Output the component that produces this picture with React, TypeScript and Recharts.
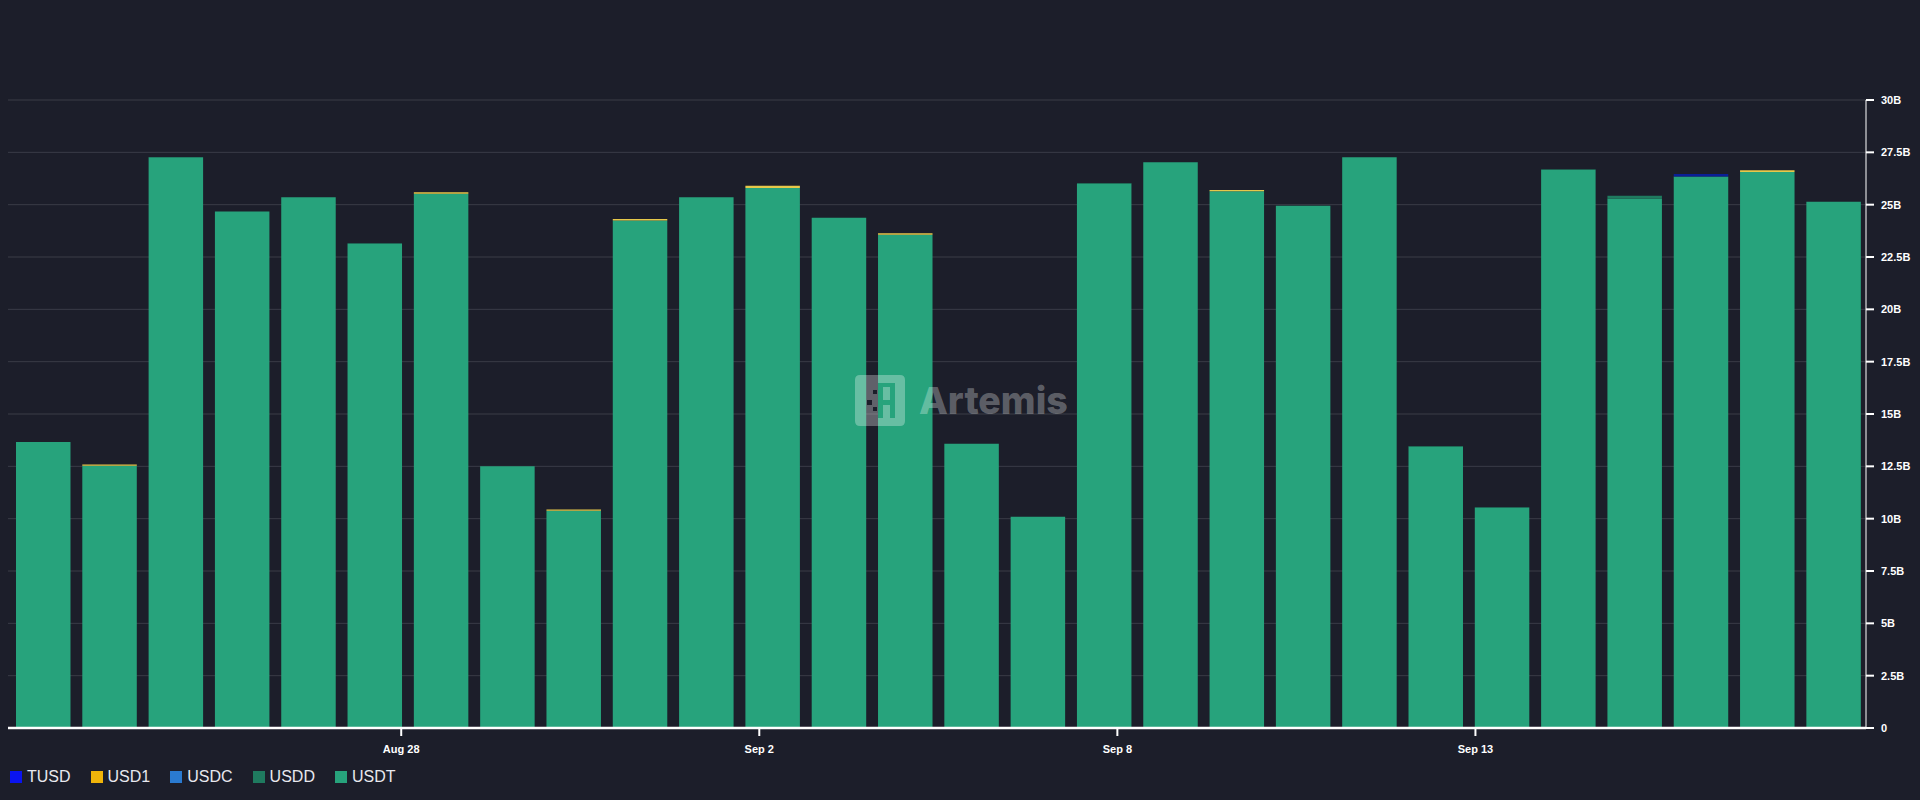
import React from 'react';
import { BarChart, Bar, XAxis, YAxis, CartesianGrid, Legend } from 'recharts';

const dates = ['Aug 23','Aug 24','Aug 25','Aug 26','Aug 27','Aug 28','Aug 29','Aug 30','Aug 31','Sep 1','Sep 2','Sep 3','Sep 4','Sep 5','Sep 6','Sep 7','Sep 8','Sep 9','Sep 10','Sep 11','Sep 12','Sep 13','Sep 14','Sep 15','Sep 16','Sep 17','Sep 18','Sep 19'];
const usdt = [13.66,12.53,27.26,24.67,25.35,23.14,25.52,12.5,10.38,24.24,25.35,25.8,24.38,23.56,13.58,10.09,26.01,27.03,25.64,24.95,27.26,13.45,10.53,26.67,25.3,26.34,26.56,25.14];
const usdd = [0,0,0.02,0,0,0.02,0,0,0,0,0,0,0,0,0,0,0.02,0,0,0,0,0.02,0.02,0.02,0.12,0,0,0];
const usdc = [0,0,0,0,0,0,0,0,0,0,0,0,0,0,0,0,0,0,0,0,0,0,0,0,0,0,0,0];
const usd1 = [0,0.06,0,0,0,0,0.07,0,0.06,0.08,0,0.1,0,0.08,0,0,0,0,0.06,0,0,0,0,0,0,0,0.08,0];
const tusd = [0,0,0,0,0,0,0,0,0,0,0,0,0,0,0,0,0,0,0,0,0,0,0,0,0,0.13,0,0];

const yTicks = [0,2.5,5,7.5,10,12.5,15,17.5,20,22.5,25,27.5,30];
const xTicks = [5.4,10.8,16.2,21.6];

const legendOrder = [
  { name: 'TUSD', color: '#0a14f0' },
  { name: 'USD1', color: '#f0b40a' },
  { name: 'USDC', color: '#2a7ad0' },
  { name: 'USDD', color: '#1f7a5f' },
  { name: 'USDT', color: '#27a37c' },
];
const stackOrder = [
  { key: 'USDT', values: usdt, color: '#27a37c' },
  { key: 'USDD', values: usdd, color: '#1f7a5f' },
  { key: 'USDC', values: usdc, color: '#2a7ad0' },
  { key: 'USD1', values: usd1, color: '#e6c84a' },
  { key: 'TUSD', values: tusd, color: '#0a1f96' },
];

const rows = dates.map((date, i) => {
  const row: Record<string, number | string> = { date, idx: i };
  stackOrder.forEach((s) => { row[s.key] = s.values[i]; });
  return row;
});

const BG = '#1c1e2a';
const tickFont = { fill: '#ffffff', fontSize: 11, fontWeight: 700, fontFamily: '"Liberation Sans", Arial, sans-serif' };

const ChartLegend = () => (
  <div style={{ display: 'flex', gap: 20, paddingLeft: 10, fontFamily: '"Liberation Sans", Arial, sans-serif', fontSize: 16, color: '#e8e8ee', lineHeight: '20px' }}>
    {legendOrder.map((l) => (
      <span key={l.name} style={{ display: 'flex', alignItems: 'center', gap: 5 }}>
        <span style={{ width: 12, height: 12, background: l.color, display: 'inline-block' }} />
        {l.name}
      </span>
    ))}
  </div>
);

const logoHole = 'M878 383H895V418H890V405H883V418H878Z M883 387V400H890V387Z M873 390H877V394H873Z M867 400H872V405H867Z M873 407H877V411H873Z';
const logoPath = `M860 375H900Q905 375 905 380V421Q905 426 900 426H860Q855 426 855 421V380Q855 375 860 375Z ${logoHole}`;

export default function App() {
  return (
    <div style={{ position: 'fixed', left: 0, top: 0, width: 1920, height: 800, background: BG, overflow: 'hidden' }}>
      <BarChart width={1920} height={800} data={rows} margin={{ top: 100, right: 0, bottom: 0, left: 8 }} barGap={0} style={{ background: BG }}>
        <CartesianGrid horizontal vertical={false} stroke="#3a3c47" strokeWidth={1} />
        <XAxis
          dataKey="idx"
          type="number"
          domain={[-0.53, 27.49]}
          allowDataOverflow
          ticks={xTicks}
          interval={0}
          height={52}
          axisLine={{ stroke: '#ffffff', strokeWidth: 2.5 }}
          tickLine={{ stroke: '#ffffff', strokeWidth: 2 }}
          tickSize={8}
          tickMargin={9}
          tick={tickFont}
          tickFormatter={(v: number) => dates[Math.floor(v)]}
        />
        <YAxis
          orientation="right"
          type="number"
          domain={[0, 30]}
          ticks={yTicks}
          interval={0}
          width={54}
          axisLine={{ stroke: '#ffffff', strokeWidth: 1 }}
          tickLine={{ stroke: '#ffffff', strokeWidth: 2 }}
          tickSize={8}
          tickMargin={7}
          tick={tickFont}
          tickFormatter={(v: number) => (v === 0 ? '0' : `${v}B`)}
        />
        <Legend
          content={<ChartLegend />}
          height={20}
          wrapperStyle={{ position: 'absolute', left: 0, top: 767, bottom: 'auto', width: 1920, height: 20 }}
        />
        {stackOrder.map((s) => (
          <Bar key={s.key} dataKey={s.key} stackId="a" fill={s.color} barSize={54.5} isAnimationActive={false} />
        ))}
      </BarChart>
      <svg width={1920} height={800} style={{ position: 'absolute', left: 0, top: 0, pointerEvents: 'none' }}>
        <path d={logoPath} fill="rgba(255,255,255,0.3)" fillRule="evenodd" />
        <text x={919} y={414} fontFamily="Inter, sans-serif" fontWeight={800} fontSize={37.5} fill="rgba(255,255,255,0.3)">Artemis</text>
      </svg>
    </div>
  );
}
